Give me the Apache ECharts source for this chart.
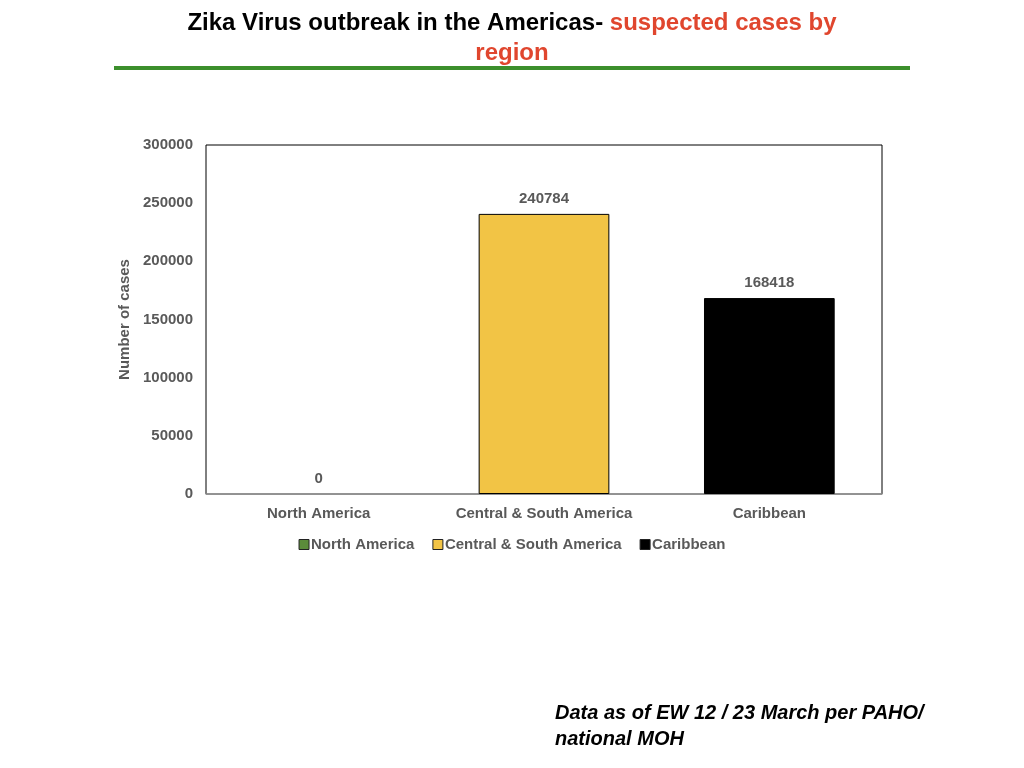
<!DOCTYPE html>
<html>
<head>
<meta charset="utf-8">
<style>
  html, body { margin: 0; padding: 0; background: #fff; }
  #chart { width: 1024px; height: 768px; }
</style>
<script src="https://cdn.jsdelivr.net/npm/echarts@6/dist/echarts.min.js"></script>
</head>
<body>
<div id="chart"></div>
<script>
// values
const regions = ['North America', 'Central & South America', 'Caribbean']
const cases = [0, 240784, 168418]
const regionColors = ['#5b8c3a', '#f2c445', '#000000']
const yTicks = { min: 0, max: 300000, interval: 50000 }

const chart = echarts.init(document.getElementById('chart'), null, { renderer: 'canvas' })
const font = '"Liberation Sans", Arial, sans-serif'
const titleFont = 'bold 24px "Liberation Sans", Arial, sans-serif'

// one series per region, stacked so each bar sits centred on its own category
const series = regions.map((name, i) => ({
  name,
  type: 'bar',
  stack: 'all',
  barWidth: '58%',
  data: regions.map((r, j) => (j === i ? cases[i] : '-')),
  itemStyle: { color: regionColors[i], borderColor: '#000', borderWidth: cases[i] ? 1 : 0 },
  label: {
    show: true,
    position: 'top',
    distance: 8,
    color: '#595959',
    fontFamily: font,
    fontWeight: 'bold',
    fontSize: 15
  }
}))

chart.setOption({
  animation: false,
  textStyle: { fontFamily: font },
  graphic: [
    {
      type: 'text',
      x: 512,
      y: 23,
      style: {
        text: '{b|Zika Virus outbreak in the Americas- }{r|suspected cases by}',
        align: 'center',
        verticalAlign: 'middle',
        rich: {
          b: { fill: '#000', font: titleFont },
          r: { fill: '#e0462e', font: titleFont }
        }
      }
    },
    {
      type: 'text',
      x: 512,
      y: 53,
      style: {
        text: 'region',
        align: 'center',
        verticalAlign: 'middle',
        fill: '#e0462e',
        font: titleFont
      }
    },
    {
      type: 'rect',
      shape: { x: 114, y: 66, width: 796, height: 4 },
      style: { fill: '#3c8f2c' }
    },
    {
      type: 'text',
      left: 555,
      top: 700,
      style: {
        text: 'Data as of EW 12 / 23 March per PAHO/\nnational MOH',
        fill: '#000',
        font: 'italic bold 20px "Liberation Sans", Arial, sans-serif',
        lineHeight: 26
      }
    }
  ],
  legend: {
    top: 532,
    left: 'center',
    itemWidth: 10,
    itemHeight: 10,
    itemGap: 18,
    icon: 'rect',
    data: regions.map((name, i) => ({
      name,
      itemStyle: { color: regionColors[i], borderColor: '#222', borderWidth: 1 }
    })),
    textStyle: { color: '#595959', fontWeight: 'bold', fontSize: 15, fontFamily: font, padding: [0, 0, 0, -3] }
  },
  grid: { left: 206, right: 142, top: 145, bottom: 274, show: true, borderColor: '#000', borderWidth: 1 },
  xAxis: {
    type: 'category',
    data: regions,
    axisLine: { lineStyle: { color: '#999', width: 1.5 } },
    axisTick: { show: false },
    axisLabel: { color: '#595959', fontWeight: 'bold', fontSize: 15, margin: 12, interval: 0 }
  },
  yAxis: {
    type: 'value',
    min: yTicks.min,
    max: yTicks.max,
    interval: yTicks.interval,
    name: 'Number of cases',
    nameLocation: 'middle',
    nameGap: 64,
    nameTextStyle: { color: '#595959', fontWeight: 'bold', fontSize: 15 },
    splitLine: { show: false },
    axisLine: { show: false },
    axisTick: { show: false },
    axisLabel: { color: '#595959', fontWeight: 'bold', fontSize: 15, margin: 13, formatter: v => String(v) }
  },
  series
})
</script>
</body>
</html>
